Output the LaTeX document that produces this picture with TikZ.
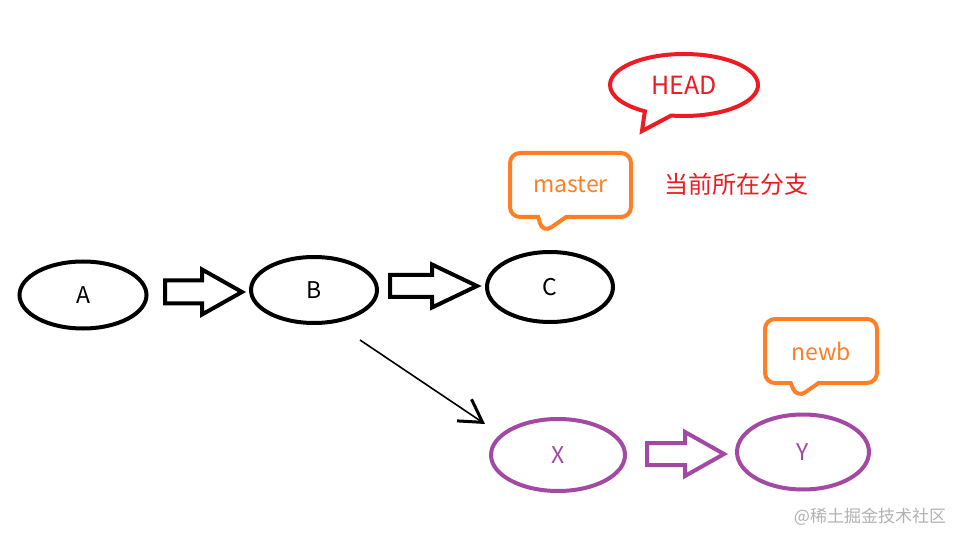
\documentclass[tikz,border=0pt]{standalone}
\usepackage{fontspec}
\setmainfont{Noto Sans CJK SC}
\usetikzlibrary{shapes.geometric,shapes.callouts,arrows.meta,calc}
\definecolor{pred}{RGB}{237,28,36}
\definecolor{porange}{RGB}{255,127,39}
\definecolor{ppurple}{RGB}{163,73,164}
\tikzset{
  commit/.style={ellipse,draw,line width=4pt,inner sep=0pt,font=\fontsize{23}{26}\selectfont},
  tag/.style={rectangle callout,draw=porange,text=porange,line width=4pt,rounded corners=10pt,
    minimum width=121pt,minimum height=64pt,callout pointer width=28pt,font=\fontsize{23}{26}\selectfont},
  fat/.style={line width=4pt,line join=miter},
}
\newcommand{\fatarrow}[6]{%
  \draw[fat,#6] (#1) ++(0,-#4) -- ++(#2-#3,0) -- ++(0,#4-#5) -- ++(#3,#5) -- ++(-#3,#5)
    -- ++(0,#4-#5) -- ++(#3-#2,0) -- cycle;}

\begin{document}
\begin{tikzpicture}[x=1pt,y=-1pt]
  \useasboundingbox[fill=white] (0,0) rectangle (969,545);
  \node[commit,minimum width=127pt,minimum height=67pt] (A) at (83,295) {A};
  \node[commit,minimum width=126pt,minimum height=66pt] (B) at (314,290) {B};
  \node[commit,minimum width=126pt,minimum height=70pt] (C) at (550,287) {C};
  \node[commit,draw=ppurple,text=ppurple,minimum width=134pt,minimum height=72pt] (X) at (558,455) {X};
  \node[commit,draw=ppurple,text=ppurple,minimum width=132pt,minimum height=75pt] (Y) at (803,452) {Y};
  \fatarrow{$(A.east)+(16.5,-3)$}{77}{40}{11.5}{22.5}{black}
  \fatarrow{$(B.east)+(11,-4)$}{87}{45}{11}{21.5}{black}
  \fatarrow{$(X.east)+(20,-1)$}{77}{39}{11}{22}{ppurple}
  \draw[line width=1.6pt,-{Straight Barb[length=22pt,width=26pt,line width=3pt]}]
    ([shift={(46,15)}]B.south) -- ([shift={(-4,-31)}]X.west);
  \node[ellipse callout,draw=pred,text=pred,line width=4pt,minimum width=148pt,minimum height=62pt,
    callout absolute pointer={(642,131)},callout pointer arc=22,font=\fontsize{25}{28}\selectfont]
    (head) at (684,85) {HEAD};
  \node[tag,callout absolute pointer={(543,233)}] (master) at (570.5,185) {master};
  \node[tag,minimum width=112pt,callout absolute pointer={(797,398)}] (newb) at (821,351) {newb};
  \node[text=pred,font=\fontsize{24}{28}\selectfont] (cur) at (736,184) {当前所在分支};
  \node[text=gray!60,font=\fontsize{17}{20}\selectfont] (mark) at (870,517) {@稀土掘金技术社区};
\end{tikzpicture}
\end{document}
